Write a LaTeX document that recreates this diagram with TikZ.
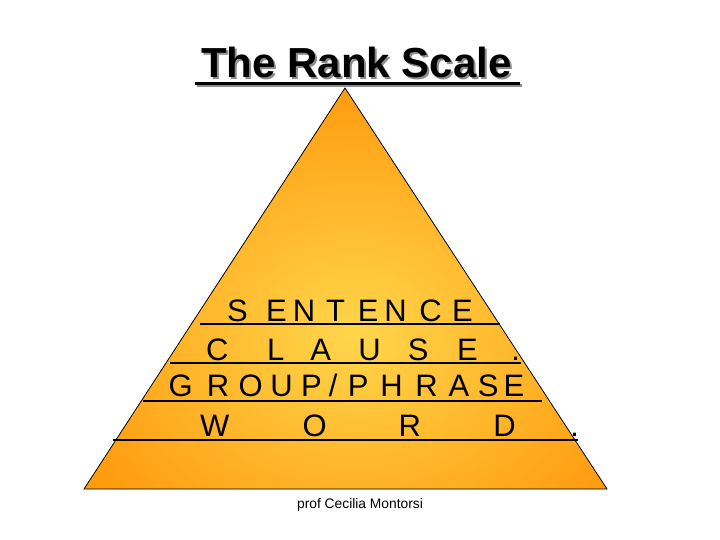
\documentclass[tikz,border=0pt]{standalone}
\usepackage{fontspec}
\setmainfont{Liberation Sans}
\definecolor{pyrdark}{RGB}{255,155,15}
\definecolor{pyrlight}{RGB}{255,214,75}
\definecolor{shadowgray}{RGB}{140,140,140}
\newcommand\lt[2]{\makebox[0pt][l]{\hspace*{#1pt}\makebox[0pt]{#2}}}
\tikzset{
  rowtxt/.style={inner sep=0pt, anchor=base west, font=\fontsize{31}{31}\selectfont},
  rule/.style={line width=2pt},
  titletxt/.style={inner sep=0pt, anchor=base, font=\fontsize{42}{42}\selectfont\bfseries},
}
\begin{document}
\begin{tikzpicture}[x=1pt,y=-1pt]
\useasboundingbox (0,0) rectangle (720,540);
% pyramid
\coordinate (apex) at (345,88);
\coordinate (bl) at (84,489);
\coordinate (br) at (607,489);
\begin{scope}
  \clip (apex) -- (br) -- (bl) -- cycle;
  \fill[pyrdark] (apex) -- (br) -- (bl) -- cycle;
  \shade[inner color=pyrlight, outer color=pyrdark] (355,335) ellipse (310 and 250);
\end{scope}
\draw[line width=0.8pt, line join=miter] (apex) -- (br) -- (bl) -- cycle;
% title with shadow
\node[titletxt, text=shadowgray] (titleshadow) at (358.5,80) {The Rank Scale};
\fill[shadowgray] (197,84) rectangle (522,87);
\node[titletxt] (title) at (356.5,78) {The Rank Scale};
\fill[black] (195,82) rectangle (520,85);
% rows
\node[rowtxt] (sentence) at (0,321.7) {\lt{236.7}{S}\lt{275.8}{E}\lt{303.3}{N}\lt{335}{T}\lt{367.5}{E}\lt{395}{N}\lt{430}{C}\lt{461.7}{E}};
\node[rowtxt] (clause) at (0,360) {\lt{216.7}{C}\lt{275}{L}\lt{320}{A}\lt{369}{U}\lt{417.5}{S}\lt{466.7}{E}\lt{515}{.}};
\node[rowtxt] (group) at (0,396.7) {\lt{180}{G}\lt{217.5}{R}\lt{250}{O}\lt{280.8}{U}\lt{310.8}{P}\lt{332.5}{/}\lt{357.5}{P}\lt{390.8}{H}\lt{425.8}{R}\lt{458.3}{A}\lt{487.5}{S}\lt{513.3}{E}};
\node[rowtxt] (word) at (0,436.7) {\lt{214}{W}\lt{314}{O}\lt{409}{R}\lt{504}{D}\lt{574}{.}};
% underlines
\draw[rule] (200,324.3) -- (500,324.3);
\draw[rule] (170,363.3) -- (521,363.3);
\draw[rule] (143,401) -- (542,401);
\draw[line width=2.8pt] (113,440) -- (578,440);
% footer
\node[inner sep=0pt, anchor=base, font=\fontsize{13.8}{14}\selectfont] (footer) at (360,508) {prof Cecilia Montorsi};
\end{tikzpicture}
\end{document}
